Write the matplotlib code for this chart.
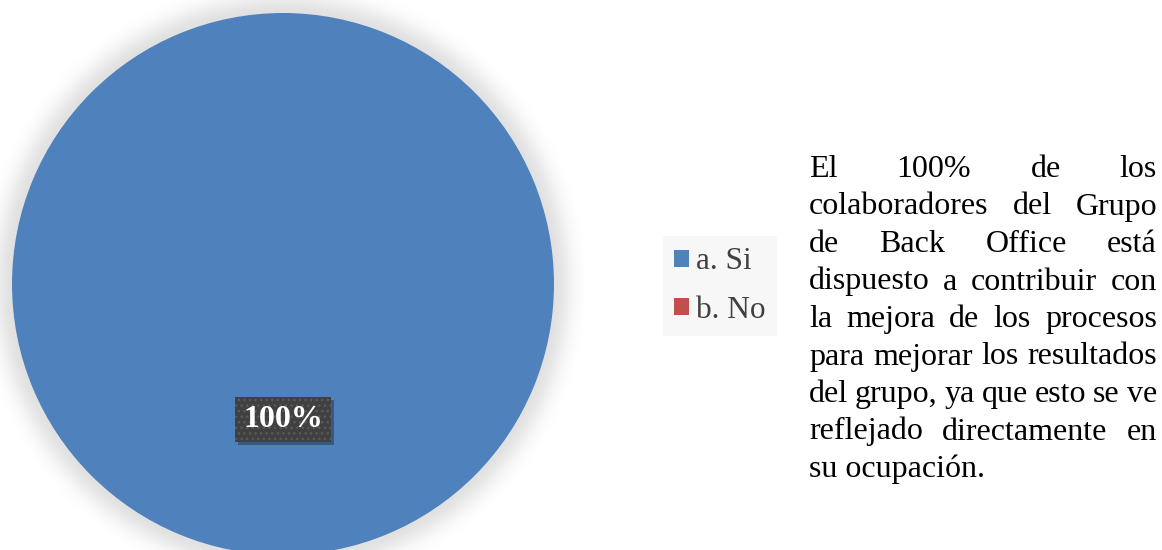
import numpy as np
import matplotlib
matplotlib.use("Agg")
import matplotlib.pyplot as plt
from matplotlib.patches import FancyBboxPatch

# Survey answers
categories = ["a. Si", "b. No"]
values = [100, 0]
colors = ["#4F81BD", "#C0504D"]
pct_label = "100%"

paragraph_lines = [
    "El 100% de los",
    "colaboradores del Grupo",
    "de Back Office está",
    "dispuesto a contribuir con",
    "la mejora de los procesos",
    "para mejorar los resultados",
    "del grupo, ya que esto se ve",
    "reflejado directamente en",
    "su ocupación.",
]

W, H = 1162, 550
fig = plt.figure(figsize=(W / 100, H / 100), dpi=100)
ax = fig.add_axes([0, 0, 1, 1])

cx, cy, r = 283, H - 284, 271

# soft outer glow behind the pie
gw = 640
gx = np.arange(0, gw)
gy = np.arange(0, H)
X, Y = np.meshgrid(gx + 0.5, gy + 0.5)
d = np.clip(np.sqrt((X - cx) ** 2 + (Y - cy) ** 2) - r, 0, None)
glow = 0.12 * np.exp(-0.5 * (d / 13) ** 2)
rgba = np.zeros((H, gw, 4))
rgba[..., :3] = 0.0
rgba[..., 3] = glow
ax.imshow(rgba, extent=(0, gw, 0, H), origin="lower", zorder=0, interpolation="bilinear")

wedges, _, autotexts = ax.pie(
    values, colors=colors, center=(cx, cy), radius=r, startangle=90,
    counterclock=False, autopct="%1.0f%%", pctdistance=0.5,
    wedgeprops=dict(linewidth=0), frame=True,
    textprops=dict(family="Liberation Serif", fontsize=23, fontweight="bold", color="white"),
)
ax.set_xlim(0, W)
ax.set_ylim(0, H)
ax.set_aspect("equal")
ax.axis("off")

for t in autotexts[1:]:
    t.set_visible(False)
lbl = autotexts[0]
lbl.set_text(pct_label)
lbl.set_zorder(6)
lbl.set_bbox(dict(boxstyle="square,pad=0.24", facecolor="#404040",
                  edgecolor="#5a5a5a", linewidth=0, hatch="..."))

# drop shadow for the label box
fig.canvas.draw()
renderer = fig.canvas.get_renderer()
bb = lbl.get_bbox_patch().get_window_extent(renderer)
shadow = FancyBboxPatch((bb.x0 + 3, bb.y0 - 3), bb.width, bb.height,
                        boxstyle="square,pad=0", facecolor="#000000", alpha=0.3,
                        linewidth=0, zorder=5)
ax.add_patch(shadow)

leg = fig.legend(
    wedges, categories, loc="center", bbox_to_anchor=(720 / W, 1 - 286 / H),
    prop=dict(family="Liberation Serif", size=22.5), frameon=True,
    facecolor="#F7F7F7", edgecolor="none", fancybox=False,
    handlelength=0.48, handleheight=0.48, handletextpad=0.22,
    labelspacing=0.62, borderpad=0.35, borderaxespad=0, labelcolor="#404040",
)
leg.get_frame().set_alpha(1)

# justified paragraph on the right
left, right = 809, 1157
base0, step = H - 177, 37.5
font = dict(family="Liberation Serif", fontsize=23, color="black")
for i, line in enumerate(paragraph_lines):
    y = base0 - i * step
    words = line.split(" ")
    if i == len(paragraph_lines) - 1 or len(words) == 1:
        ax.text(left, y, line, ha="left", va="baseline", **font)
        continue
    texts = [ax.text(0, y, w, ha="left", va="baseline", **font) for w in words]
    widths = [t.get_window_extent(renderer).width for t in texts]
    gap = (right - left - sum(widths)) / (len(words) - 1)
    x = left
    for t, w in zip(texts, widths):
        t.set_x(x)
        x += w + gap

fig.savefig("out.png", dpi=100)
